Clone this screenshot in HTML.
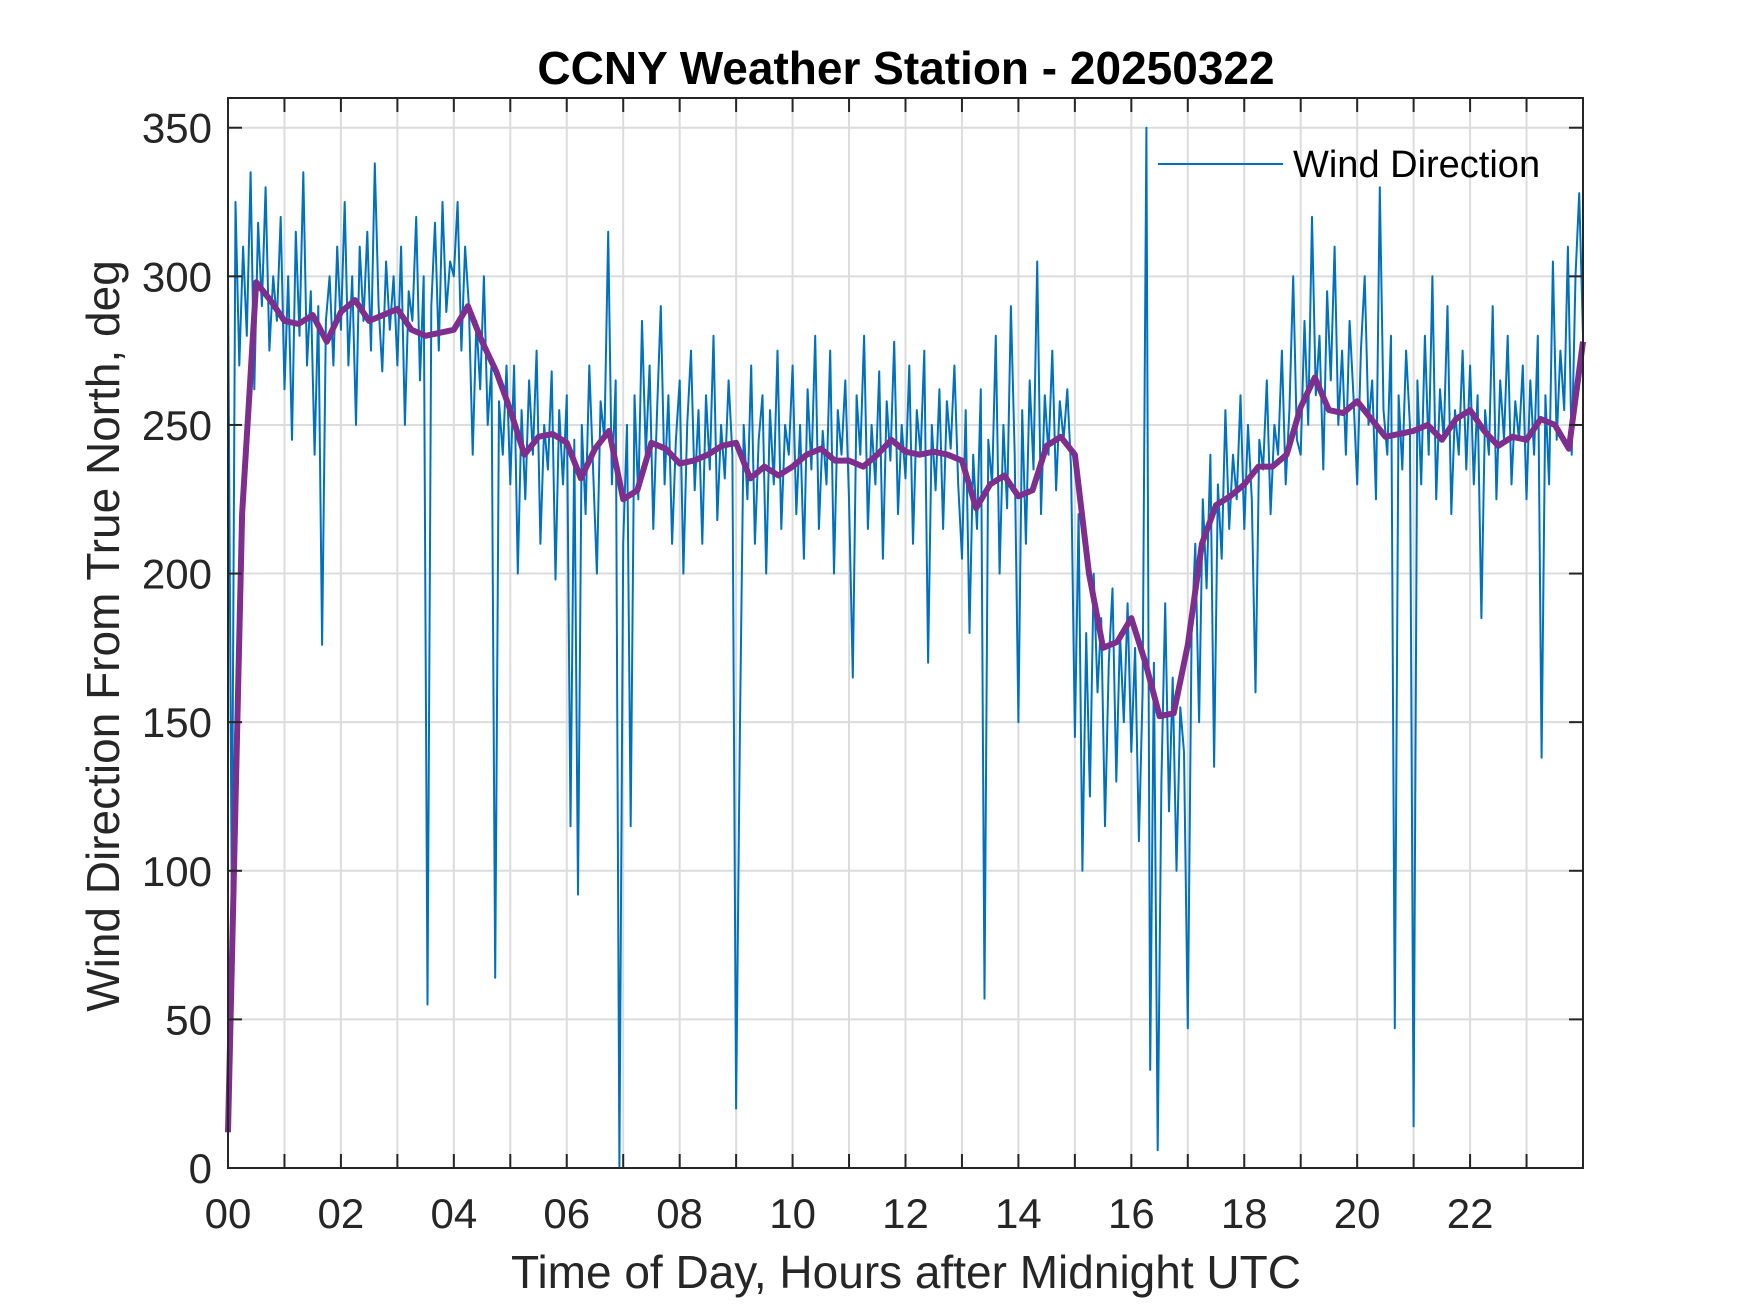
<!DOCTYPE html>
<html><head><meta charset="utf-8">
<style>
html,body{margin:0;padding:0;background:#fff;}
svg{display:block;font-family:"Liberation Sans",Arial,sans-serif;}
</style></head>
<body>
<svg id="chart" width="1750" height="1313" viewBox="0 0 1750 1313" xmlns="http://www.w3.org/2000/svg">
<rect x="0" y="0" width="1750" height="1313" fill="#fff"/>
<g id="grid"></g>
<g id="plot"></g>
<g id="axes"></g>
<text x="906" y="84" text-anchor="middle" font-size="46" font-weight="bold" fill="#000">CCNY Weather Station - 20250322</text>
<text x="906" y="1288" text-anchor="middle" font-size="46" fill="#262626">Time of Day, Hours after Midnight UTC</text>
<text transform="translate(119,636) rotate(-90)" text-anchor="middle" font-size="46" fill="#262626">Wind Direction From True North, deg</text>
<g>
<line x1="1158" y1="164" x2="1283" y2="164" stroke="#0072BD" stroke-width="2"/>
<text x="1293" y="177" font-size="38" fill="#000">Wind Direction</text>
</g>
</svg>
<script>
const xTicks = [0,1,2,3,4,5,6,7,8,9,10,11,12,13,14,15,16,17,18,19,20,21,22,23];
const xTickLabels = ["00","","02","","04","","06","","08","","10","","12","","14","","16","","18","","20","","22",""];
const yTicks = [0,50,100,150,200,250,300,350];
const yTickLabels = ["0","50","100","150","200","250","300","350"];
const windStepMinutes = 4;
const windDirection = [
300,90,325,270,310,280,335,262,318,290,330,275,300,285,320,
262,300,245,315,280,335,270,295,240,290,176,285,300,270,310,
282,325,270,300,250,310,285,315,275,338,290,268,305,282,300,
270,310,250,295,285,320,265,300,55,290,318,275,325,288,305,
300,325,275,310,290,240,285,262,300,250,270,64,258,240,270,
230,270,200,255,225,265,240,275,210,250,235,268,198,255,230,
260,115,245,92,250,220,270,235,200,258,245,315,230,265,0,
210,250,115,260,225,285,240,270,215,255,290,230,260,210,245,
265,200,250,275,228,255,210,260,235,280,218,250,232,265,240,
20,147,250,225,270,210,245,260,200,255,230,275,215,250,240,
270,220,250,205,262,235,280,215,248,230,275,200,255,240,265,
225,165,260,240,280,215,250,230,268,205,258,238,278,220,250,
232,270,210,255,240,275,170,250,228,262,215,258,242,270,230,
205,255,180,240,215,262,57,245,230,280,200,250,222,290,240,
150,255,210,265,235,305,220,260,240,275,228,258,245,262,235,
145,220,100,180,125,200,160,185,115,170,195,130,180,150,190,
140,175,110,160,350,33,170,6,130,190,120,165,100,155,140,
47,180,210,150,225,195,240,135,230,205,255,215,240,225,260,
215,250,225,160,245,235,265,220,250,240,275,230,255,300,245,
240,285,250,320,260,280,235,295,265,310,250,275,240,285,260,
230,275,300,250,265,225,330,255,240,280,47,260,235,275,250,
14,265,230,280,240,300,225,262,245,290,220,255,240,275,235,
270,230,260,185,255,240,290,225,265,245,280,230,258,245,270,
225,265,240,280,138,260,230,305,245,275,255,310,240,300,328,
280];
const smoothStepMinutes = 15;
const smoothDirection = [
12,220,298,292,285,284,287,278,288,292,285,287,289,282,280,281,
282,290,278,268,255,240,246,247,244,232,242,248,225,228,244,242,
237,238,240,243,244,232,236,233,236,240,242,238,238,236,240,245,
241,240,241,240,238,222,230,233,226,228,243,246,240,200,175,177,
185,170,152,153,176,210,223,226,230,236,236,240,256,266,255,254,
258,252,246,247,248,250,245,252,255,248,243,246,245,252,250,242,278];

const L=228,R=1583,T=98,B=1168,XMAX=24,YMAX=360;
const xs=h=>L+(h/XMAX)*(R-L);
const ys=v=>B-(v/YMAX)*(B-T);
const NS="http://www.w3.org/2000/svg";
function mk(tag,attrs,parent){const e=document.createElementNS(NS,tag);for(const k in attrs)e.setAttribute(k,attrs[k]);parent.appendChild(e);return e;}
const grid=document.getElementById('grid'),axes=document.getElementById('axes'),plot=document.getElementById('plot');
xTicks.forEach((h,i)=>{
  if(h>0){const g=mk('line',{x1:xs(h),x2:xs(h),y1:T,y2:B,stroke:'#dcdcdc','stroke-width':2},grid);
  
  }
  const t1=mk('line',{x1:xs(h),x2:xs(h),y1:B,y2:B-14,stroke:'#262626','stroke-width':2},axes);
  
  
  const t2=mk('line',{x1:xs(h),x2:xs(h),y1:T,y2:T+14,stroke:'#262626','stroke-width':2},axes);
  
  
  if(xTickLabels[i]){const tx=mk('text',{x:xs(h),y:B+60,'text-anchor':'middle','font-size':42,fill:'#262626'},axes);tx.textContent=xTickLabels[i];
  
  }
});
yTicks.forEach((v,i)=>{
  if(v>0){const g=mk('line',{x1:L,x2:R,y1:ys(v),y2:ys(v),stroke:'#dcdcdc','stroke-width':2},grid);
  
  }
  const t1=mk('line',{x1:L,x2:L+14,y1:ys(v),y2:ys(v),stroke:'#262626','stroke-width':2},axes);
  
  
  const t2=mk('line',{x1:R,x2:R-14,y1:ys(v),y2:ys(v),stroke:'#262626','stroke-width':2},axes);
  
  
  const tx=mk('text',{x:L-16,y:ys(v)+15,'text-anchor':'end','font-size':42,fill:'#262626'},axes);tx.textContent=yTickLabels[i];
  
  
});
const box=mk('rect',{x:L,y:T,width:R-L,height:B-T,fill:'none',stroke:'#262626','stroke-width':2},axes);


const p1=windDirection.map((v,i)=>xs(Math.min(i*windStepMinutes/60,XMAX)).toFixed(1)+','+ys(v).toFixed(1)).join(' ');
const wl=mk('polyline',{points:p1,fill:'none',stroke:'#0072BD','stroke-width':2,'stroke-linejoin':'round'},plot);


const p2=smoothDirection.map((v,i)=>xs(Math.min(i*smoothStepMinutes/60,XMAX)).toFixed(1)+','+ys(v).toFixed(1)).join(' ');
const sl=mk('polyline',{points:p2,fill:'none',stroke:'#7E2F8E','stroke-width':6,'stroke-linejoin':'round'},plot);


</script>
</body></html>
